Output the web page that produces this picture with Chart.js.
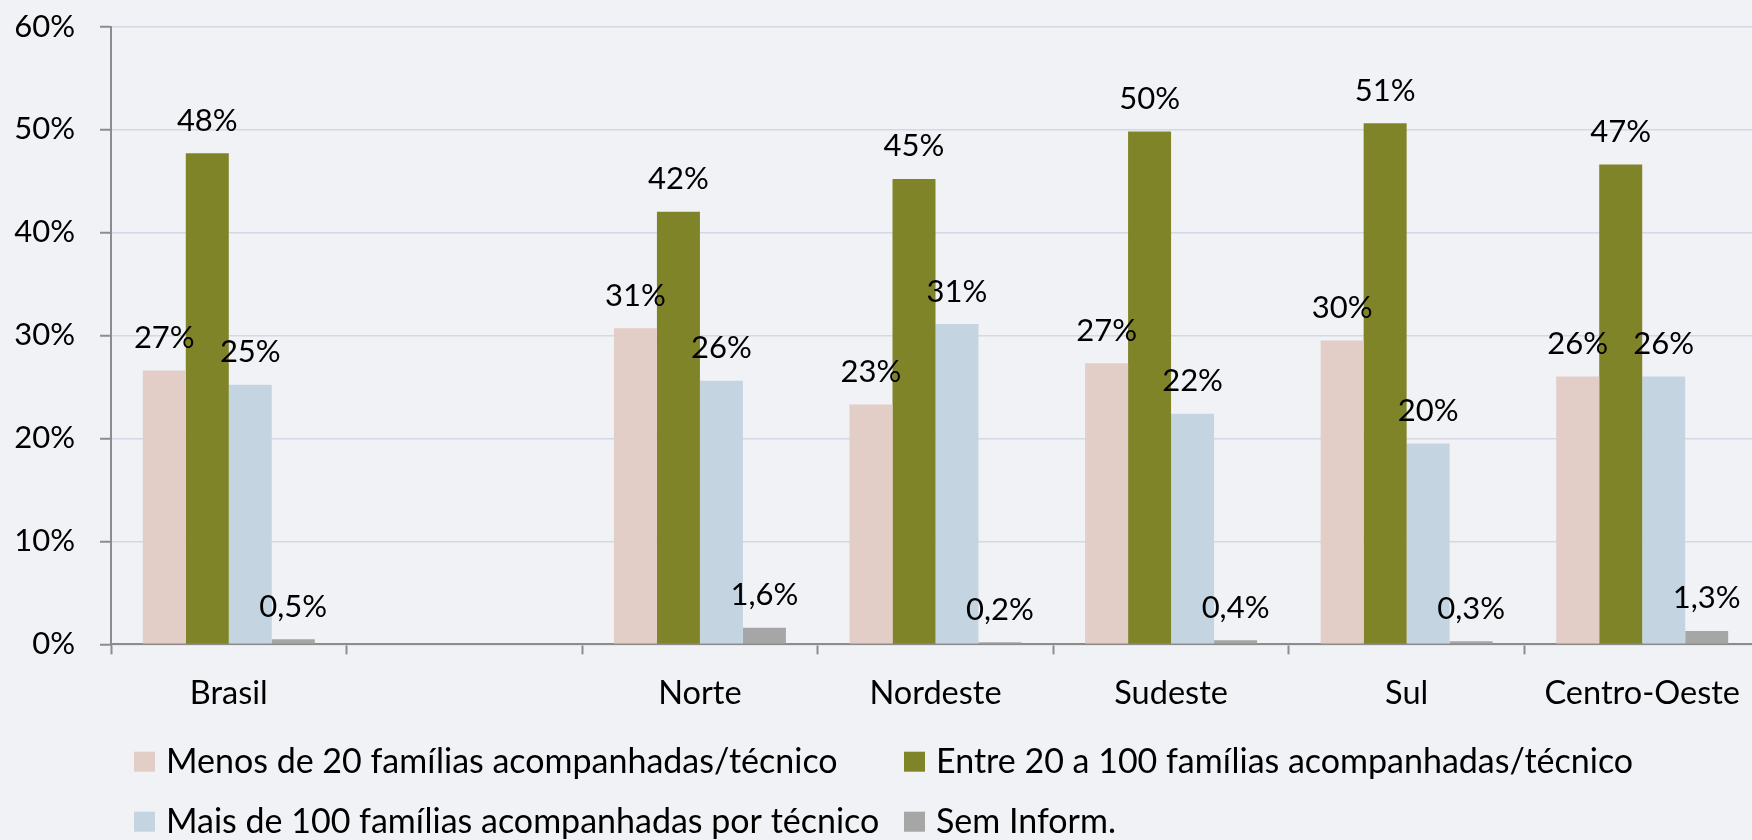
<!DOCTYPE html>
<html>
<head>
<meta charset="utf-8">
<script src="https://cdn.jsdelivr.net/npm/chart.js@4.4.1/dist/chart.umd.min.js"></script>
<style>
html, body { margin: 0; padding: 0; overflow: hidden; width: 1752px; height: 840px; background: #f1f2f6; }
canvas { display: block; }
</style>
</head>
<body>
<canvas id="chart" width="1760" height="840"></canvas>
<script>
// ---- data ----
const categories = ['Brasil', '', 'Norte', 'Nordeste', 'Sudeste', 'Sul', 'Centro-Oeste'];
const seriesNames = [
  'Menos de 20 famílias acompanhadas/técnico',
  'Entre 20 a 100 famílias acompanhadas/técnico',
  'Mais de 100 famílias acompanhadas por técnico',
  'Sem Inform.'
];
const menos20 = [26.6, null, 30.7, 23.3, 27.3, 29.5, 26.0];
const entre20a100 = [47.7, null, 42.0, 45.2, 49.8, 50.6, 46.6];
const mais100 = [25.2, null, 25.6, 31.1, 22.4, 19.5, 26.0];
const semInform = [0.5, null, 1.6, 0.2, 0.4, 0.3, 1.3];
const yTicks = [0, 10, 20, 30, 40, 50, 60];

// ---- styles ----
const colors = ['#e2cdc7', '#7f8428', '#c4d5e1', '#a6a6a6'];
const FONT = 'Lato';
const FS = 31;

function fmt(v) {
  return v < 2 ? v.toFixed(1).replace('.', ',') + '%' : Math.round(v) + '%';
}

// value labels above each bar, positioned from the bar elements
const barLabels = {
  id: 'barLabels',
  afterDatasetsDraw(chart) {
    const ctx = chart.ctx;
    ctx.save();
    ctx.font = FS + 'px ' + FONT;
    ctx.fillStyle = '#000';
    ctx.textAlign = 'center';
    ctx.textBaseline = 'alphabetic';
    chart.data.datasets.forEach((ds, i) => {
      const meta = chart.getDatasetMeta(i);
      meta.data.forEach((el, j) => {
        const v = ds.data[j];
        if (v == null) return;
        ctx.fillText(fmt(v), el.x, el.y - 22.5);
      });
    });
    ctx.restore();
  }
};

// two-column legend grid below the axis
const gridLegend = {
  id: 'gridLegend',
  afterDraw(chart) {
    const ctx = chart.ctx;
    const area = chart.chartArea;
    const cols = [area.left + 23, area.left + 793];
    const rows = [area.bottom + 128.4, area.bottom + 188.4];
    ctx.save();
    ctx.font = '34px ' + FONT;
    ctx.textAlign = 'left';
    ctx.textBaseline = 'alphabetic';
    chart.data.datasets.forEach((ds, i) => {
      const x = cols[i % 2];
      const y = rows[Math.floor(i / 2)];
      ctx.fillStyle = ds.backgroundColor;
      ctx.fillRect(x, y - 21, 21, 20);
      ctx.fillStyle = '#000';
      ctx.fillText(ds.label, x + 32, y);
    });
    ctx.restore();
  }
};

const seriesData = [menos20, entre20a100, mais100, semInform];

new Chart(document.getElementById('chart'), {
  type: 'bar',
  data: {
    labels: categories,
    datasets: seriesData.map((d, i) => ({
      label: seriesNames[i],
      data: d,
      backgroundColor: colors[i],
      borderWidth: 0,
      barPercentage: 1,
      categoryPercentage: 0.73
    }))
  },
  options: {
    responsive: false,
    animation: false,
    devicePixelRatio: 1,
    layout: { padding: { top: 26.5, left: 0, right: 0, bottom: 127 } },
    font: { family: FONT, size: FS },
    plugins: {
      tooltip: { enabled: false },
      legend: { display: false }
    },
    scales: {
      x: {
        grid: {
          offset: true,
          drawOnChartArea: false,
          drawTicks: true,
          tickLength: 10,
          tickColor: '#8c8c8c',
          tickWidth: 2
        },
        border: { color: '#8c8c8c', width: 2 },
        ticks: {
          font: { family: FONT, size: 32.5 },
          color: '#000',
          padding: 19.7,
          maxRotation: 0,
          autoSkip: false
        },
        afterFit(scale) { scale.height = 68.7; }
      },
      y: {
        min: yTicks[0],
        max: yTicks[yTicks.length - 1],
        afterBuildTicks(scale) { scale.ticks = yTicks.map(v => ({ value: v })); },
        grid: {
          color: '#d6d7e4',
          lineWidth: 1.5,
          drawTicks: true,
          tickLength: 11,
          tickColor: '#8c8c8c',
          tickWidth: 2
        },
        border: { color: '#8c8c8c', width: 2 },
        ticks: {
          font: { family: FONT, size: FS },
          color: '#000',
          padding: 25,
          callback: v => v + '%'
        },
        afterFit(scale) {
          scale.width = 111;
          scale.paddingTop = 0;
          scale.paddingBottom = 0;
        }
      }
    }
  },
  plugins: [barLabels, gridLegend]
});
</script>
</body>
</html>
